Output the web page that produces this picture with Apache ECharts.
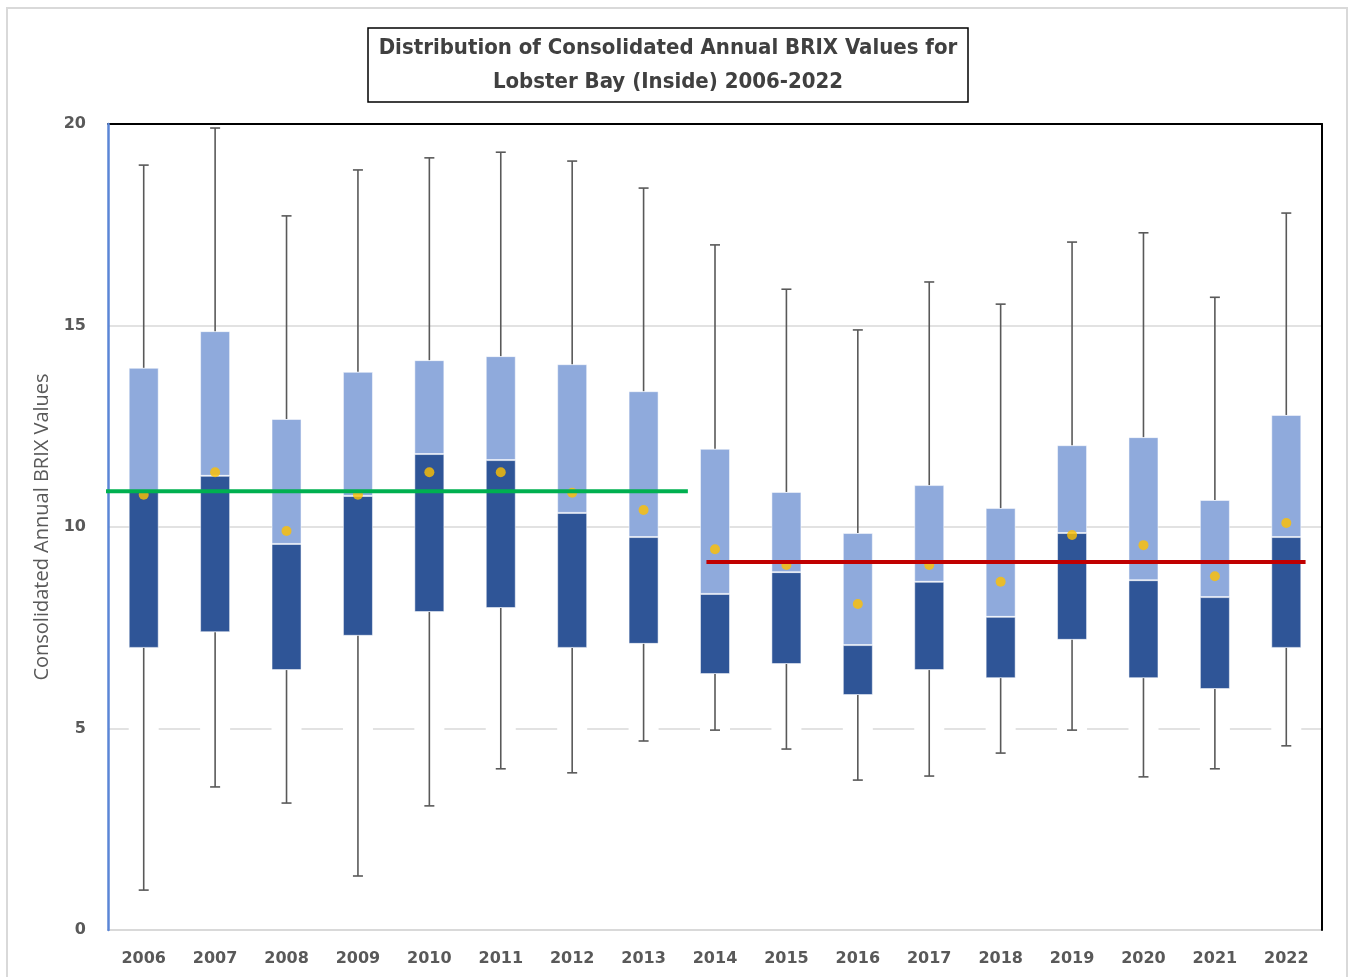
<!DOCTYPE html>
<html>
<head>
<meta charset="utf-8">
<title>Lobster Bay BRIX</title>
<script src="https://cdn.jsdelivr.net/npm/echarts@6/dist/echarts.min.js"></script>
<style>
  html, body { margin: 0; padding: 0; background: #fff; }
  #chart { width: 1351px; height: 977px; }
</style>
</head>
<body>
<div id="chart"></div>
<script>
const years = ['2006', '2007', '2008', '2009', '2010', '2011', '2012', '2013', '2014',
  '2015', '2016', '2017', '2018', '2019', '2020', '2021', '2022'];
const minVals = [0.99, 3.55, 3.15, 1.34, 3.08, 4.0, 3.9, 4.69, 4.96, 4.49, 3.72, 3.82, 4.39, 4.96, 3.8, 4.0, 4.57];
const q1Vals = [7.0, 7.39, 6.45, 7.3, 7.89, 7.99, 7.0, 7.1, 6.35, 6.6, 5.83, 6.45, 6.25, 7.2, 6.25, 5.98, 7.0];
const medianVals = [10.87, 11.27, 9.58, 10.77, 11.81, 11.66, 10.35, 9.75, 8.34, 8.88, 7.07, 8.64, 7.77, 9.85, 8.68, 8.26, 9.75];
const q3Vals = [13.95, 14.86, 12.68, 13.85, 14.14, 14.24, 14.04, 13.37, 11.94, 10.87, 9.85, 11.04, 10.47, 12.03, 12.23, 10.67, 12.78];
const maxVals = [18.98, 19.9, 17.72, 18.86, 19.16, 19.3, 19.08, 18.41, 17.0, 15.9, 14.89, 16.08, 15.53, 17.07, 17.3, 15.7, 17.79];
const meanVals = [10.8, 11.36, 9.9, 10.8, 11.36, 11.36, 10.85, 10.42, 9.45, 9.06, 8.09, 9.06, 8.64, 9.8, 9.55, 8.78, 10.1];

// period reference lines (x in category index units)
const periodStart = [-0.55, 7.88];
const periodEnd = [7.62, 16.27];
const periodLevel = [10.89, 9.13];
const periodColor = ['#00B050', '#C00000'];

const chart = echarts.init(document.getElementById('chart'));

const labelFont = {
  color: '#595959',
  fontFamily: 'DejaVu Sans',
  fontWeight: 'bold',
  fontSize: 16
};

const whiskerData = years.map((y, i) => [i, minVals[i], q1Vals[i], q3Vals[i], maxVals[i]]);

const renderWhisker = (params, api) => {
  const x = api.value(0);
  const pMin = api.coord([x, api.value(1)]);
  const pQ1 = api.coord([x, api.value(2)]);
  const pQ3 = api.coord([x, api.value(3)]);
  const pMax = api.coord([x, api.value(4)]);
  const style = { stroke: '#595959', lineWidth: 1.6 };
  const cap = 5;
  return {
    type: 'group',
    children: [
      { type: 'line', shape: { x1: pMin[0], y1: pMin[1], x2: pQ1[0], y2: pQ1[1] }, style },
      { type: 'line', shape: { x1: pQ3[0], y1: pQ3[1], x2: pMax[0], y2: pMax[1] }, style },
      { type: 'line', shape: { x1: pMin[0] - cap, y1: pMin[1], x2: pMin[0] + cap, y2: pMin[1] }, style },
      { type: 'line', shape: { x1: pMax[0] - cap, y1: pMax[1], x2: pMax[0] + cap, y2: pMax[1] }, style }
    ]
  };
};

const refSeries = periodLevel.map((lvl, k) => ({
  type: 'line',
  xAxisIndex: 2,
  data: [[periodStart[k], lvl], [periodEnd[k], lvl]],
  symbol: 'none',
  clip: false,
  silent: true,
  z: 6,
  lineStyle: { color: periodColor[k], width: 4 }
}));

const option = {
  animation: false,
  backgroundColor: '#fff',
  title: {
    text: 'Distribution of Consolidated Annual BRIX Values for\nLobster Bay (Inside) 2006-2022',
    left: 657,
    top: 28,
    textAlign: 'center',
    padding: [3, 11, 3, 11],
    borderColor: '#000',
    borderWidth: 1.5,
    textStyle: {
      color: '#404040',
      fontFamily: 'DejaVu Sans Condensed, Liberation Sans',
      fontWeight: 'bold',
      fontSize: 22,
      lineHeight: 34
    }
  },
  graphic: [
    {
      type: 'rect',
      shape: { x: 7, y: 8, width: 1340, height: 990 },
      style: { fill: 'none', stroke: '#D9D9D9', lineWidth: 2 },
      silent: true
    }
  ],
  grid: {
    left: 108,
    right: 29,
    top: 124,
    bottom: 47
  },
  xAxis: [
    {
      type: 'category',
      data: years,
      z: 3,
      axisLine: { onZero: false, lineStyle: { color: '#D9D9D9', width: 2 } },
      axisTick: { show: false },
      axisLabel: { ...labelFont, margin: 21 },
      splitLine: { show: false }
    },
    {
      type: 'category',
      position: 'top',
      data: years,
      z: 3,
      axisLine: { onZero: false, lineStyle: { color: '#000', width: 2 } },
      axisTick: { show: false },
      axisLabel: { show: false }
    },
    {
      type: 'value',
      min: -0.5,
      max: 16.5,
      show: false
    }
  ],
  yAxis: [
    {
      type: 'value',
      min: 0,
      max: 20,
      interval: 5,
      z: 4,
      name: 'Consolidated Annual BRIX Values',
      nameLocation: 'middle',
      nameGap: 56,
      nameTextStyle: {
        color: '#595959',
        fontFamily: 'Open Sans',
        fontSize: 20
      },
      axisLine: { show: true, onZero: false, lineStyle: { color: '#5B86D6', width: 2.5 } },
      axisTick: { show: false },
      axisLabel: { ...labelFont, margin: 22 },
      splitLine: { show: false }
    },
    {
      type: 'value',
      position: 'right',
      min: 0,
      max: 20,
      z: 4,
      axisLine: { show: true, onZero: false, lineStyle: { color: '#000', width: 2 } },
      axisTick: { show: false },
      axisLabel: { show: false },
      splitLine: { show: false }
    },
    {
      // gridlines only, kept beneath the boxes
      type: 'value',
      position: 'left',
      min: 0,
      max: 20,
      interval: 5,
      z: 0,
      axisLine: { show: false },
      axisTick: { show: false },
      axisLabel: { show: false },
      splitLine: {
        show: true,
        lineStyle: {
          color: ['transparent', '#D9D9D9', '#D9D9D9', '#D9D9D9', 'transparent'],
          width: 1.5
        }
      }
    }
  ],
  series: [
    {
      name: 'base',
      type: 'bar',
      stack: 'box',
      data: q1Vals,
      barWidth: 30,
      silent: true,
      itemStyle: { color: '#fff' },
      z: 2
    },
    {
      name: 'Q1 to median',
      type: 'bar',
      stack: 'box',
      data: medianVals.map((m, i) => +(m - q1Vals[i]).toFixed(2)),
      barWidth: 30,
      itemStyle: { color: '#2F5597', borderColor: 'rgba(255,255,255,0.5)', borderWidth: 1 },
      z: 2
    },
    {
      name: 'median to Q3',
      type: 'bar',
      stack: 'box',
      data: q3Vals.map((q, i) => +(q - medianVals[i]).toFixed(2)),
      barWidth: 30,
      itemStyle: { color: '#8FAADC', borderColor: 'rgba(255,255,255,0.5)', borderWidth: 1 },
      z: 2
    },
    {
      name: 'whiskers',
      type: 'custom',
      data: whiskerData,
      encode: { x: 0, y: [1, 2, 3, 4] },
      renderItem: renderWhisker,
      z: 4
    },
    {
      name: 'mean',
      type: 'scatter',
      data: meanVals,
      symbol: 'circle',
      symbolSize: 10,
      itemStyle: { color: '#FFC000' },
      z: 5
    },
    ...refSeries
  ]
};

chart.setOption(option);
</script>
</body>
</html>
